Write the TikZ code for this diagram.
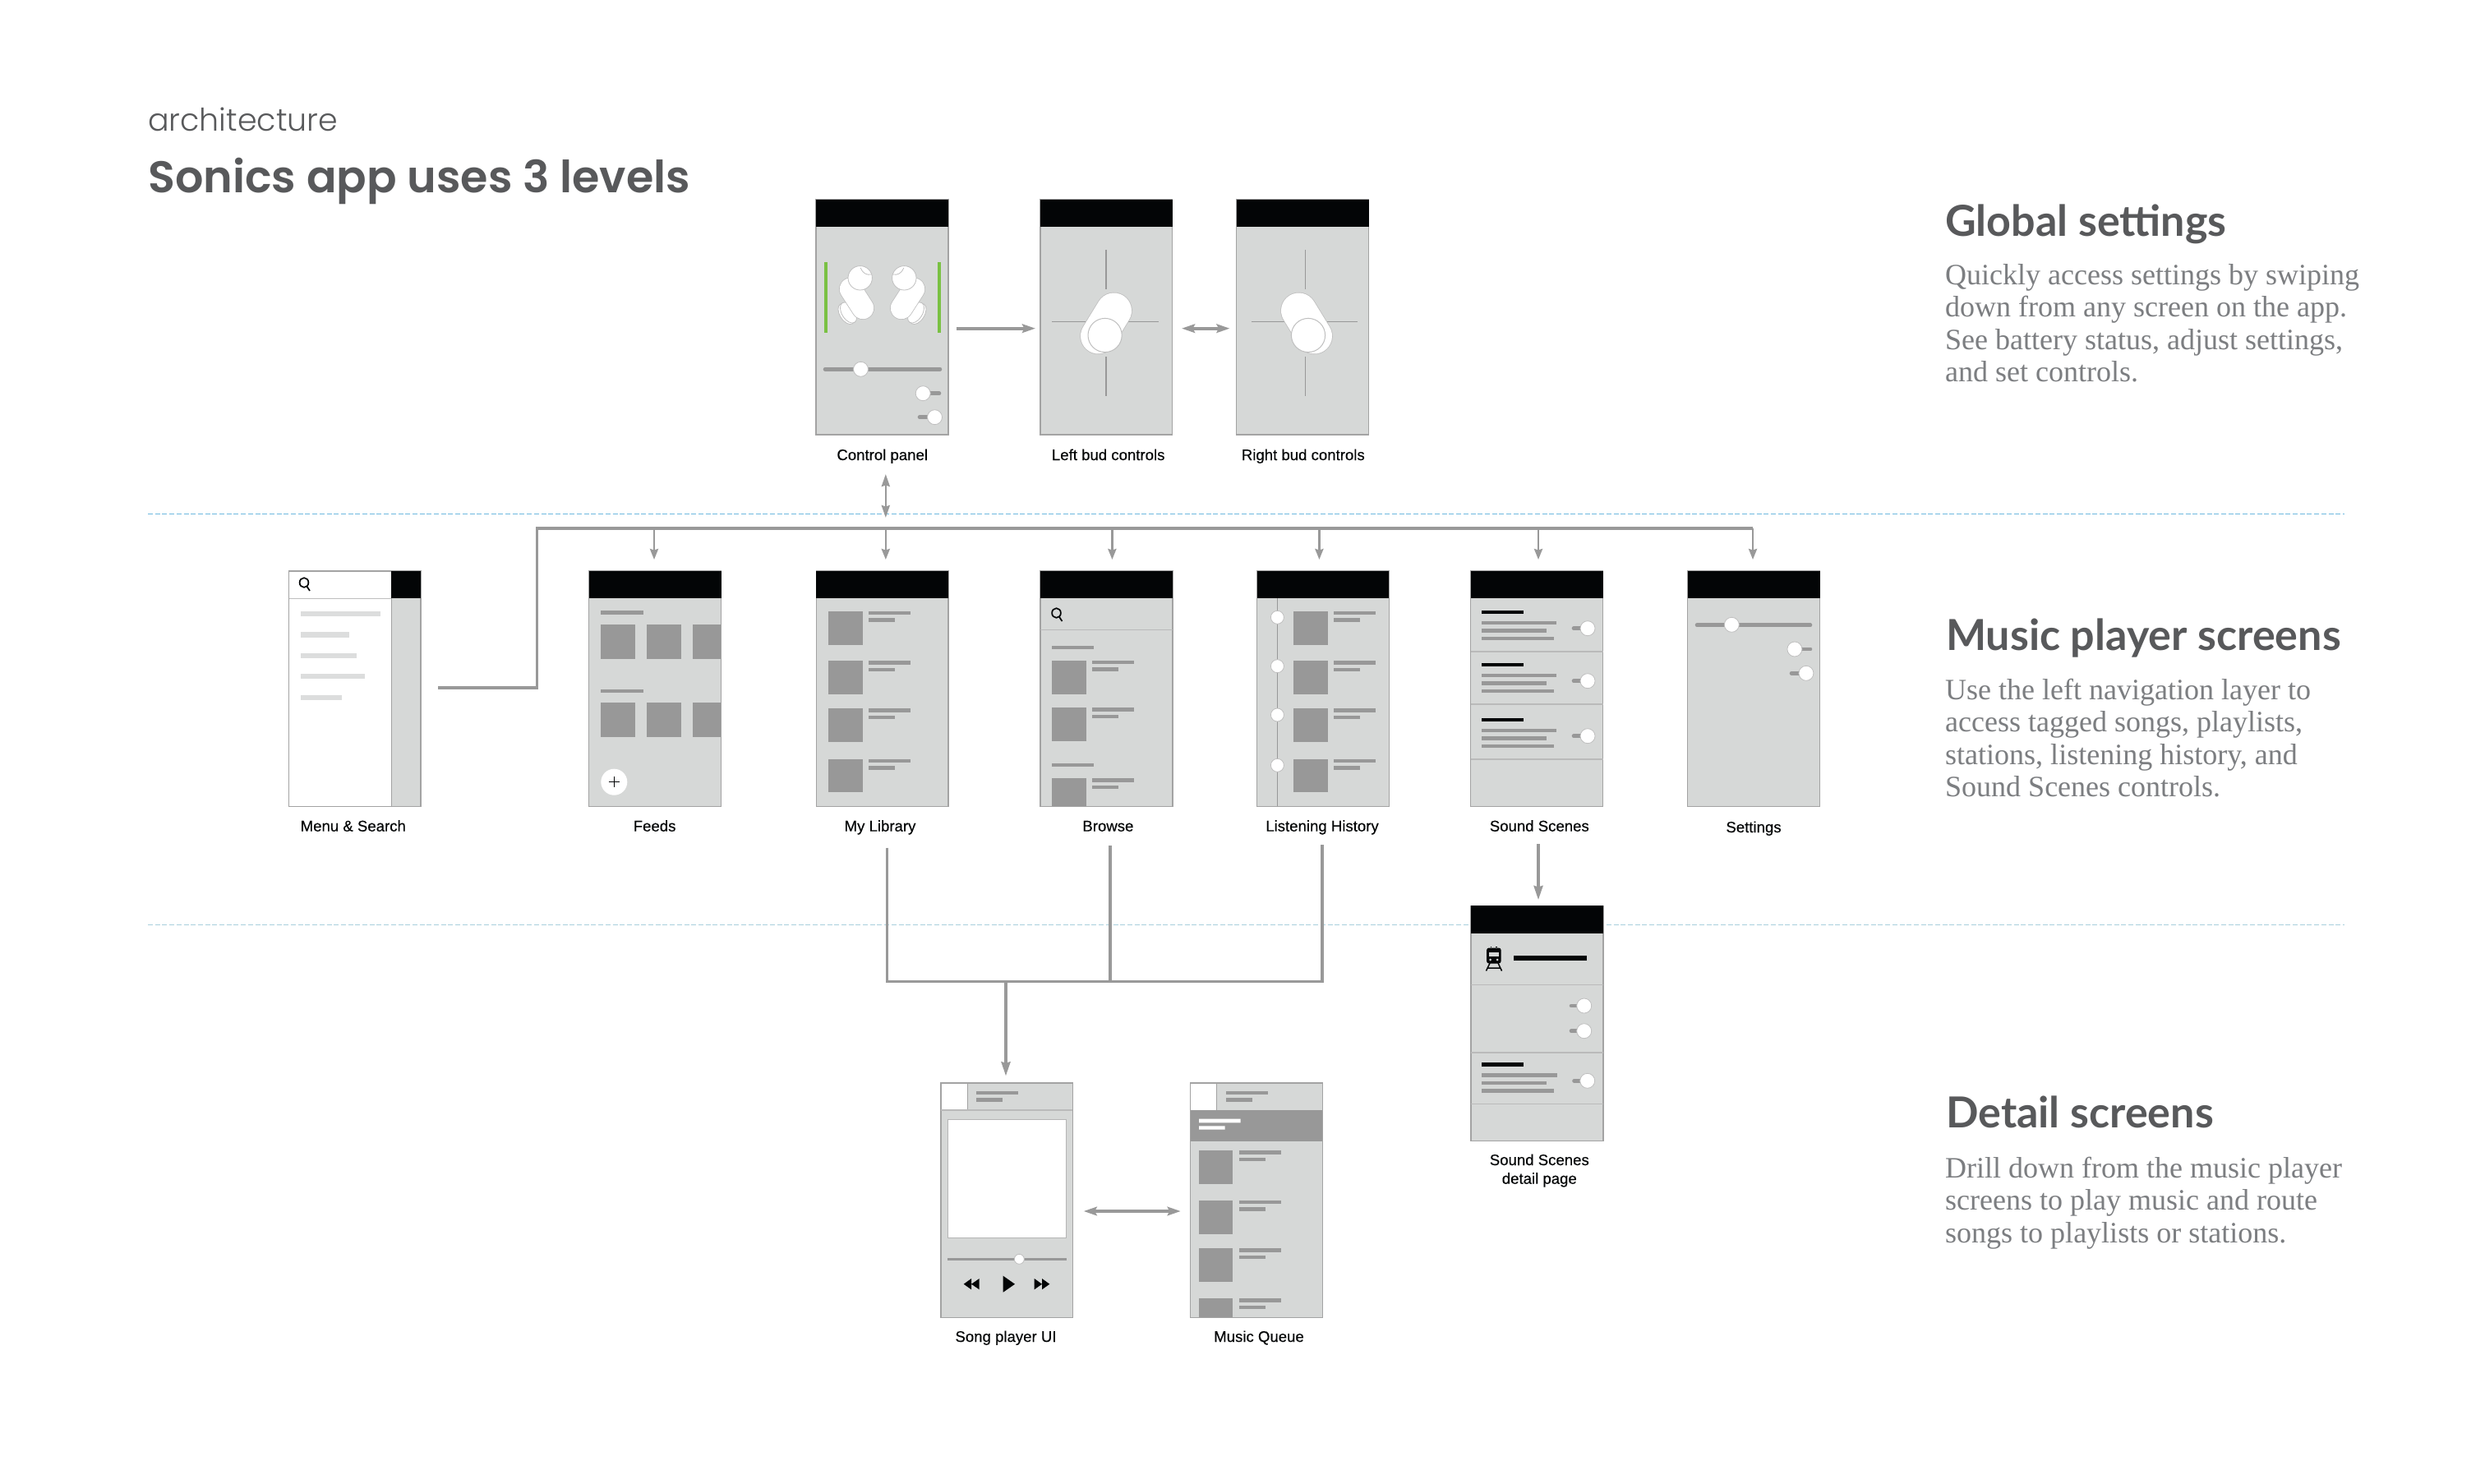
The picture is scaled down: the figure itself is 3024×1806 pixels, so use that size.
\documentclass[tikz,border=0pt]{standalone}
\usepackage{fontspec}
\usetikzlibrary{arrows.meta}
\setmainfont[FakeBold=0.25]{Liberation Sans}
\newfontfamily\ttlfont{Poppins Light}
\newfontfamily\ttlbold{Poppins SemiBold}
\newfontfamily\headfont{Lato}
\newfontfamily\bodyfont{Liberation Serif}
\definecolor{scr}{HTML}{D6D8D7}
\definecolor{edge}{HTML}{A3A3A3}
\definecolor{dk}{HTML}{989898}
\definecolor{blk}{HTML}{030506}
\definecolor{cn}{HTML}{999999}
\definecolor{lt}{HTML}{DCDDDD}
\definecolor{gn}{HTML}{7AC143}
\definecolor{ttl}{HTML}{58595B}
\definecolor{bd}{HTML}{7C7E81}
\definecolor{bluedashA}{HTML}{6DB8DF}
\definecolor{bluedashB}{HTML}{A9CFDD}
\tikzset{
 shot/.style={draw=edge,line width=1.2pt,fill=scr,inner sep=0pt,outer sep=0pt,rectangle},
 wire/.style={draw=cn,line width=3.8pt},
 tickarrow/.style={draw=cn,line width=2.6pt,-{Stealth[length=13pt,width=10pt,inset=1.5pt]}},
 oneway/.style={wire,-{Stealth[length=16pt,width=10.5pt,inset=2.5pt]}},
 twoway/.style={wire,{Stealth[length=16pt,width=10.5pt,inset=2.5pt]}-{Stealth[length=16pt,width=10.5pt,inset=2.5pt]}},
 shotcap/.style={font=\fontsize{18.6}{22.7}\selectfont,text=blk,inner sep=0pt,anchor=base,align=center},
 headtxt/.style={font=\headfont\bfseries\fontsize{52}{55}\selectfont,text=ttl,inner sep=0pt,anchor=base west},
 bodytxt/.style={font=\bodyfont\fontsize{36}{39.5}\selectfont,text=bd,inner sep=0pt,anchor=base west,align=left},
 knobshape/.style={fill=white,draw=lightgray,line width=0.8pt},
 track/.style={draw=dk,line width=4.6pt,line cap=round},
 hair/.style={draw=dk,line width=1.1pt},
 rowsep/.style={draw=edge!75,line width=1.6pt},
}
% name, x1, y1, x2, y2
\newcommand\shotbox[5]{%
 \pgfmathsetmacro\wdv{#4-#2}\pgfmathsetmacro\htv{#5-#3}%
 \node[shot,minimum width=\wdv pt,minimum height=\htv pt,anchor=north west] (#1) at (#2,#3) {};}
\newcommand\hdr[4]{\fill[blk] (#1,#2) rectangle (#3,#4);}
\newcommand\gbar[4]{\fill[dk] (#1,{#2}) rectangle (#3,{#4});}
\newcommand\kbar[4]{\fill[blk] (#1,{#2}) rectangle (#3,{#4});}
\newcommand\knb[3]{\draw[knobshape] (#1,#2) circle (#3);}
% thumb + two text lines: thumbx1 thumbx2 ytop ybot textx1 textx2 textx3
\newcommand\rowitem[7]{\fill[dk] (#1,#3) rectangle (#2,#4);
 \fill[dk] (#5,#3) rectangle (#6,{#3+4.6}); \fill[dk] (#5,{#3+8.6}) rectangle (#7,{#3+13});}
\newcommand\lens[2]{\draw[blk,line width=1.7pt] (#1,#2) ellipse (5.4 and 5.8) ({#1+3.4},{#2+4.6}) -- ({#1+7},{#2+10});}
\newcommand\capsule[5]{% ax ay bx by width
 \draw[lightgray,line width=#5pt+1.6pt,line cap=round] (#1,#2) -- (#3,#4);
 \draw[white,line width=#5pt,line cap=round] (#1,#2) -- (#3,#4);}
\begin{document}
\begin{tikzpicture}[x=1pt,y=-1pt]
\useasboundingbox (0,0) rectangle (3024,1806);
\fill[white] (0,0) rectangle (3024,1806);
% title
\node[font=\ttlfont\fontsize{38}{42}\selectfont,text=ttl,inner sep=0pt,anchor=base west] (ttlA) at (180,159.3) {architecture};
\node[font=\ttlbold\fontsize{54}{60}\selectfont,text=ttl,inner sep=0pt,anchor=base west] (ttlB) at (180,234.3) {Sonics app uses 3 levels};
% side text (multi-line nodes are placed by their last baseline)
\node[headtxt] (h1) at (2367,287.5) {Global settings};
\node[bodytxt] (b1) at (2367,464.5) {Quickly access settings by swiping\\down from any screen on the app.\\See battery status, adjust settings,\\and set controls.};
\node[headtxt] (h2) at (2368,791.5) {Music player screens};
\node[bodytxt] (b2) at (2367,969.5) {Use the left navigation layer to\\access tagged songs, playlists,\\stations, listening history, and\\Sound Scenes controls.};
\node[headtxt] (h3) at (2368,1372) {Detail screens};
\node[bodytxt] (b3) at (2367,1512) {Drill down from the music player\\screens to play music and route\\songs to playlists or stations.};
% separators
\coordinate (sepAl) at (180,625.3); \coordinate (sepAr) at (2853,625.3);
\coordinate (sepBl) at (180,1125.5); \coordinate (sepBr) at (2853,1125.5);
\draw[bluedashA,line width=1.3pt,dash pattern=on 6pt off 2.7pt] (sepAl) -- (sepAr);
\draw[bluedashB,line width=1.8pt,dash pattern=on 6pt off 2.7pt] (sepBl) -- (sepBr);
% ------- control panel
\shotbox{cp}{993}{243}{1154}{529}
\hdr{993}{243}{1154}{275.7}
\fill[gn] (1003.3,319.3) rectangle (1007.3,404.7);
\fill[gn] (1141,319.3) rectangle (1145,404.7);
\foreach \sx/\ox/\rr in {1/0/-58,-1/2147/58}{
  \begin{scope}[xshift=\ox pt,x=\sx pt]
  \draw[knobshape,rotate around={\rr:(1030,382)}] (1030,382) ellipse (14 and 8);
  \draw[knobshape,rotate around={\rr:(1032.5,380.5)}] (1032.5,380.5) ellipse (14 and 8);
  \capsule{1035}{351.7}{1050}{375}{26.5}
  \draw[knobshape] (1046.7,338.3) circle (14.7);
  \draw[lightgray,line width=0.8pt] (1047.3,326) .. controls (1050,333) and (1055,335) .. (1060,334);
  \end{scope}}
\draw[track] (1004,449.3) -- (1144,449.3); \knb{1047.5}{449.3}{9}
\draw[track] (1123,478.7) -- (1143,478.7); \knb{1123.2}{478.7}{9}
\draw[track] (1119,507.7) -- (1137,507.7); \knb{1137.5}{507.7}{9}
\node[shotcap] (cpL) at (1073.7,560) {Control panel};
% ------- left bud
\shotbox{lb}{1266}{243}{1426.8}{529}
\hdr{1266}{243}{1426.8}{275.7}
\foreach \a/\b/\c/\d in {1346/304.3/1346/351.7,1346/434/1346/481.7,1280.3/391.3/1328/391.3,1362/391.3/1409.8/391.3}\draw[hair] (\a,\b) -- (\c,\d);
\capsule{1355.5}{378}{1336.5}{409}{43}
\draw[knobshape,line width=1pt] (1344.6,408) circle (20.6);
\node[shotcap] (lbL) at (1348.7,560) {Left bud controls};
% ------- right bud
\shotbox{rb}{1504.8}{243}{1665.5}{529}
\hdr{1504.8}{243}{1665.5}{275.7}
\foreach \a/\b/\c/\d in {1588.4/304.3/1588.4/351.7,1588.4/434/1588.4/481.7,1522.7/391.3/1570.9/391.3,1602/391.3/1652/391.3}\draw[hair] (\a,\b) -- (\c,\d);
\capsule{1580.5}{378}{1599.5}{409}{43}
\draw[knobshape,line width=1pt] (1592,408) circle (20.6);
\node[shotcap] (rbL) at (1585.8,560) {Right bud controls};
% ------- menu
\shotbox{mn}{351.7}{695}{512}{981.3}
\fill[white] (351.7,695) rectangle (476,981.3);
\draw[edge,line width=1pt] (351.7,695) rectangle (512,981.3);
\draw[edge,line width=1pt] (476,695) -- (476,981.3);
\draw[edge!70,line width=1.4pt] (351.7,728.3) -- (476,728.3);
\hdr{476}{695}{512}{728.3}
\foreach \e/\t in {462.7/743.5,425/769.3,434/794.5,444/820,415.7/845.7}\fill[lt] (366.4,\t) rectangle (\e,{\t+6.2});
\lens{370}{709}
\node[shotcap] (mnL) at (429.8,1011.7) {Menu \& Search};
% ------- feeds
\shotbox{fd}{716.8}{695}{877.6}{981.3}
\hdr{716.8}{695}{877.6}{728.3}
\gbar{731.4}{743.3}{782.5}{748}
\gbar{731.4}{838.6}{782.5}{843.3}
\foreach \ya/\yb in {760.3/801.7,855.3/896.7}{\gbar{731.4}{\ya}{773}{\yb}\gbar{787}{\ya}{828.9}{\yb}\gbar{843}{\ya}{877}{\yb}}
\fill[white] (747.3,951.7) circle (16);
\draw[blk,line width=1.3pt] (740.5,951.7) -- (754,951.7) (747.3,945) -- (747.3,958.4);
\node[shotcap] (fdL) at (796.6,1011.7) {Feeds};
% ------- library
\shotbox{ml}{993.2}{695}{1154}{981.3}
\hdr{993.2}{695}{1154}{728.3}
\foreach \ya/\yb in {743.7/784.7,804/845,862.3/903,923.7/964.3}{\rowitem{1008.4}{1049.5}{\ya}{\yb}{1057}{1108}{1089.4}}
\node[shotcap] (mlL) at (1071,1011.7) {My Library};
% ------- browse
\shotbox{br}{1266}{695}{1426.9}{981.3}
\hdr{1266}{695}{1426.9}{728.3}
\draw[rowsep] (1266,766.3) -- (1426.9,766.3);
\lens{1285.5}{746}
\gbar{1280}{786}{1331}{790.3}
\gbar{1280}{929}{1331}{933.3}
\foreach \ya/\yb in {803.7/845,861.3/902.3,947/980.8}{\rowitem{1280}{1321.6}{\ya}{\yb}{1329.3}{1380.3}{1361}}
\node[shotcap] (brL) at (1348.4,1011.7) {Browse};
% ------- history
\shotbox{lh}{1529.5}{695}{1690.3}{981.3}
\hdr{1529.5}{695}{1690.3}{728.3}
\draw[dk,line width=1.1pt] (1554.4,728) -- (1554.4,981.3);
\foreach \ya/\yb in {743.7/784.7,804/845,862.3/903,923.7/964.3}{\rowitem{1574.2}{1615.6}{\ya}{\yb}{1623.3}{1674.3}{1655.2}}
\foreach \y in {751.3,810.7,870,931.3}{\knb{1554.4}{\y}{8}}
\node[shotcap] (lhL) at (1609,1011.7) {Listening History};
% ------- sound scenes
\shotbox{ss}{1789.7}{695}{1950.5}{981.3}
\hdr{1789.7}{695}{1950.5}{728.3}
\draw[rowsep] (1789.7,793) -- (1950.5,793) (1789.7,856.7) -- (1950.5,856.7) (1789.7,924) -- (1950.5,924);
\foreach \y/\k in {742.7/764.7,806.7/828.7,873.5/895.7}{
 \kbar{1803}{\y}{1854}{\y+4.7}
 \gbar{1803}{\y+13.3}{1894.3}{\y+17.6}
 \gbar{1803}{\y+22.6}{1882.2}{\y+27}
 \gbar{1803}{\y+32.3}{1891.2}{\y+36.6}
 \draw[track] (1915,\k) -- (1932,\k); \knb{1932}{\k}{9}}
\node[shotcap] (ssL) at (1873.3,1011.7) {Sound Scenes};
% ------- settings
\shotbox{st}{2053.8}{695}{2214.5}{981.3}
\hdr{2053.8}{695}{2214.5}{728.3}
\draw[track] (2065,760.7) -- (2203,760.7); \knb{2107.3}{760.3}{9}
\draw[track] (2184,790) -- (2203,790); \knb{2183.9}{790}{9}
\draw[track] (2180,819.3) -- (2198,819.3); \knb{2197.9}{819.3}{9}
\node[shotcap] (stL) at (2134,1013) {Settings};
% ------- detail
\shotbox{dt}{1790}{1102.3}{1951}{1388.3}
\hdr{1790}{1102.3}{1951}{1135.5}
\draw[rowsep] (1790,1198.3) -- (1951,1198.3) (1790,1280.7) -- (1951,1280.7) (1790,1343.3) -- (1951,1343.3);
% train
\fill[blk,rounded corners=3pt] (1809,1153.5) rectangle (1826.7,1172.5);
\fill[scr] (1811.5,1158.5) rectangle (1824.2,1164);
\fill[scr] (1813.6,1168) circle (1.5) (1822.2,1168) circle (1.5);
\draw[blk,line width=1.5pt] (1813,1172) -- (1808.5,1181.5) (1823,1172) -- (1827.5,1181.5) (1810.5,1178) -- (1825.5,1178);
\draw[blk,line width=1.1pt] (1814.5,1153) -- (1814.5,1151.5) (1821,1153) -- (1821,1151.5);
\kbar{1842}{1163.3}{1931.3}{1169.3}
\draw[track] (1912,1224) -- (1928,1224); \knb{1927.7}{1224}{9}
\draw[track] (1912,1254.7) -- (1928,1254.7); \knb{1927.7}{1254.7}{9}
\kbar{1803.3}{1293}{1854}{1297.7}
\gbar{1803.3}{1306.3}{1894.7}{1310.7}
\gbar{1803.3}{1316}{1882.3}{1320.3}
\gbar{1803.3}{1325.3}{1890.7}{1329.7}
\draw[track] (1915.5,1315.3) -- (1932,1315.3); \knb{1931.7}{1315.3}{9}
\node[shotcap] (dtL) at (1873.3,1440.7) {Sound Scenes\\detail page};
% ------- song player
\shotbox{sp}{1145}{1318}{1305.3}{1603.7}
\fill[white] (1145,1318) rectangle (1177.3,1350.7);
\draw[edge,line width=1.2pt] (1145,1318) rectangle (1305.3,1603.7);
\draw[edge,line width=1pt] (1177.3,1318) -- (1177.3,1350.7);
\draw[rowsep] (1145,1350.7) -- (1305.3,1350.7);
\gbar{1188}{1328}{1238.7}{1332.3}
\gbar{1188}{1336.3}{1219.7}{1340.7}
\fill[white] (1153.3,1362.3) rectangle (1297.7,1506);
\draw[edge!80,line width=1pt] (1153.3,1362.3) rectangle (1297.7,1506);
\draw[dk,line width=2.6pt] (1153.3,1532.3) -- (1297.7,1532.3);
\knb{1240.3}{1532.3}{6}
\fill[blk] (1172.7,1562.7) -- (1182,1556) -- (1182,1569.3) -- cycle (1182,1562.7) -- (1191.7,1556) -- (1191.7,1569.3) -- cycle;
\fill[blk] (1220.7,1552.7) -- (1235,1562.7) -- (1220.7,1572.7) -- cycle;
\fill[blk] (1258.7,1556) -- (1268,1562.7) -- (1258.7,1569.3) -- cycle (1268,1556) -- (1277.3,1562.7) -- (1268,1569.3) -- cycle;
\node[shotcap] (spL) at (1224,1633) {Song player UI};
% ------- queue
\shotbox{mq}{1448.7}{1318}{1609.3}{1603.7}
\fill[white] (1448.7,1318) rectangle (1480.7,1350.7);
\fill[dk] (1448.7,1350.7) rectangle (1609.3,1388.7);
\draw[edge,line width=1.2pt] (1448.7,1318) rectangle (1609.3,1603.7);
\draw[edge,line width=1pt] (1480.7,1318) -- (1480.7,1350.7);
\gbar{1491.7}{1328}{1542.7}{1332.3}
\gbar{1491.7}{1336.3}{1523.7}{1340.7}
\fill[white] (1459,1361.7) rectangle (1509.7,1366.3) (1459,1370.3) rectangle (1490.7,1374.7);
\foreach \ya/\yb in {1400.3/1441.3,1460.7/1501.7,1519/1560,1580/1603.1}{\rowitem{1459}{1500}{\ya}{\yb}{1507.7}{1558.7}{1539.7}}
\node[shotcap] (mqL) at (1532,1633) {Music Queue};
% ------- connectors
\coordinate (a1) at (1164,399.7); \coordinate (a2) at (1260,399.7);
\draw[oneway] (a1) -- (a2);
\coordinate (a3) at (1438,399.7); \coordinate (a4) at (1496.5,399.7);
\draw[twoway] (a3) -- (a4);
\coordinate (v1) at (1077.8,577); \coordinate (v2) at (1077.8,630);
\draw[draw=cn,line width=2.6pt,{Stealth[length=15pt,width=10pt,inset=1.5pt]}-{Stealth[length=15pt,width=10pt,inset=1.5pt]}] (v1) -- (v2);
\coordinate (m1) at (533,836.7); \coordinate (m2) at (653.4,836.7); \coordinate (m3) at (653.4,642.7); \coordinate (m4) at (2133,642.7);
\draw[wire] (m1) -- (m2) -- (m3) -- (m4);
\foreach \n/\x in {fd/796,ml/1077.8,br/1353.4,lh/1605.4,ss/1872,st/2133}{
 \coordinate (t\n) at (\x,642.7); \coordinate (u\n) at (\x,681);
 \draw[tickarrow] (t\n) -- (u\n);}
\coordinate (d1) at (1079.7,1031.7); \coordinate (d2) at (1351,1029.3); \coordinate (d3) at (1609,1028);
\coordinate (e1) at (1079.7,1194.3); \coordinate (e2) at (1351,1194.3); \coordinate (e3) at (1609,1194.3);
\coordinate (e4) at (1224,1194.3); \coordinate (e5) at (1224,1309.3);
\draw[draw=cn,line width=3.2pt] (d1) -- (e1) -- (e3) -- (d3);
\draw[draw=cn,line width=3.2pt] (d2) -- (e2);
\draw[draw=cn,line width=3.2pt,-{Stealth[length=17pt,width=11pt,inset=1.5pt]}] (e4) -- (e5);
\coordinate (s1) at (1872,1027); \coordinate (s2) at (1872,1095);
\draw[draw=cn,line width=3.2pt,-{Stealth[length=17pt,width=11pt,inset=1.5pt]}] (s1) -- (s2);
\coordinate (q1) at (1318.7,1474); \coordinate (q2) at (1436.7,1474);
\draw[twoway] (q1) -- (q2);
\end{tikzpicture}
\end{document}
